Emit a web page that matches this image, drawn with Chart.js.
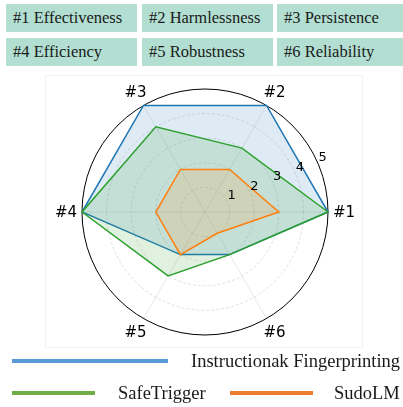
<!DOCTYPE html>
<html>
<head>
<meta charset="utf-8">
<script src="https://cdn.jsdelivr.net/npm/chart.js@4"></script>
<style>
body { margin: 0; width: 403px; height: 407px; position: relative; overflow: hidden; background: #fff;
       font-family: "Liberation Serif", "Times New Roman", serif; color: #1a1a1a; }
.box { position: absolute; height: 28px; line-height: 28px; background: #b2dfd2; font-size: 16.5px;
       padding-left: 7px; box-sizing: border-box; white-space: nowrap; }
#frame { position: absolute; left: 45px; top: 75px; width: 318px; height: 273px; border: 1px solid #f2f2f2; box-sizing: border-box; }
#radar { position: absolute; left: 0; top: 0; }
.key { position: absolute; height: 4px; }
.lab { position: absolute; font-size: 18.5px; line-height: 20px; white-space: nowrap; }
</style>
</head>
<body>
<div id="frame"></div>
<div id="boxes"></div>
<canvas id="radar" width="403" height="407"></canvas>
<div id="keys"></div>
<script>
// axes, counter-clockwise from the right
const axisLabels = ['#1', '#2', '#3', '#4', '#5', '#6'];
const axisNames = ['Effectiveness', 'Harmlessness', 'Persistence', 'Efficiency', 'Robustness', 'Reliability'];
const tickValues = [1, 2, 3, 4, 5];
const tickLabels = ['1', '2', '3', '4', '5'];

const seriesNames = ['Instructionak Fingerprinting', 'SafeTrigger', 'SudoLM'];
const fingerprinting = [5, 5, 5, 5, 2, 2];
const safeTrigger = [5, 3, 4, 5, 3, 2];
const sudoLM = [3, 2, 2, 2, 2, 1];

const lineColors = ['#1f77b4', '#2ca02c', '#ff7f0e'];
const fillColors = ['rgba(31,119,180,0.15)', 'rgba(44,160,44,0.15)', 'rgba(255,127,14,0.15)'];
const keyColors = ['#5b9bd5', '#70ad47', '#ed7d31'];

// chart.js goes clockwise, the picture goes counter-clockwise
const order = [0, 5, 4, 3, 2, 1];
const pick = arr => order.map(i => arr[i]);

// header boxes
const boxCols = [[6, 131], [142, 131], [277, 126]];
const boxRows = [4, 38];
const boxesEl = document.getElementById('boxes');
axisLabels.forEach((lab, i) => {
    const d = document.createElement('div');
    d.className = 'box';
    d.style.left = boxCols[i % 3][0] + 'px';
    d.style.width = boxCols[i % 3][1] + 'px';
    d.style.top = boxRows[Math.floor(i / 3)] + 'px';
    d.textContent = lab + ' ' + axisNames[i];
    boxesEl.appendChild(d);
});

// bottom legend
const keyPos = [
    { x: 12, w: 156, y: 359, tx: 191 },
    { x: 12, w: 83, y: 391, tx: 118 },
    { x: 230, w: 83, y: 391, tx: 334 }
];
const keysEl = document.getElementById('keys');
seriesNames.forEach((name, i) => {
    const k = document.createElement('div');
    k.className = 'key';
    k.style.left = keyPos[i].x + 'px';
    k.style.width = keyPos[i].w + 'px';
    k.style.top = keyPos[i].y + 'px';
    k.style.background = keyColors[i];
    keysEl.appendChild(k);
    const t = document.createElement('div');
    t.className = 'lab';
    t.style.left = keyPos[i].tx + 'px';
    t.style.top = (keyPos[i].y - 8) + 'px';
    t.textContent = name;
    keysEl.appendChild(t);
});

// axis names and radial tick labels, placed like matplotlib does
const radarText = {
    id: 'radarText',
    afterDatasetsDraw(chart) {
        const r = chart.scales.r;
        const c = chart.ctx;
        c.save();
        c.fillStyle = '#000';
        c.textAlign = 'center';
        c.textBaseline = 'middle';
        c.font = '15px "DejaVu Sans"';
        chart.data.labels.forEach((lab, i) => {
            const p = r.getPointPosition(i, r.drawingArea + 16);
            c.fillText(lab, p.x, p.y + 1);
        });
        c.font = '13px "DejaVu Sans"';
        const a = 22.5 * Math.PI / 180;
        tickValues.forEach((v, i) => {
            const d = r.getDistanceFromCenterForValue(v);
            c.fillText(tickLabels[i], r.xCenter + d * Math.cos(a) + 4, r.yCenter - d * Math.sin(a) - 7);
        });
        c.restore();
    }
};

const series = [fingerprinting, safeTrigger, sudoLM];
new Chart(document.getElementById('radar'), {
    type: 'radar',
    data: {
        labels: pick(axisLabels),
        datasets: series.map((s, i) => ({
            label: seriesNames[i],
            data: pick(s),
            borderColor: lineColors[i],
            backgroundColor: fillColors[i],
            borderWidth: 1.5,
            pointRadius: 0,
            fill: true,
            order: 3 - i
        }))
    },
    options: {
        responsive: false,
        devicePixelRatio: 1,
        animation: false,
        layout: { padding: { left: 82, right: 75, top: 89, bottom: 72 } },
        plugins: { legend: { display: false }, tooltip: { enabled: false } },
        scales: {
            r: {
                startAngle: 90,
                min: 0,
                max: 5,
                ticks: { display: false, stepSize: 1 },
                pointLabels: { display: false },
                angleLines: { color: 'rgba(0,0,0,0.12)', lineWidth: 0.8 },
                grid: {
                    circular: true,
                    color: ctx => ctx.tick && ctx.tick.value === 5 ? '#000' : 'rgba(0,0,0,0.16)',
                    lineWidth: ctx => ctx.tick && ctx.tick.value === 5 ? 1 : 0.8
                },
                border: {
                    dash: ctx => ctx.tick && ctx.tick.value === 5 ? [] : [3, 2]
                }
            }
        }
    },
    plugins: [radarText]
});
</script>
</body>
</html>
